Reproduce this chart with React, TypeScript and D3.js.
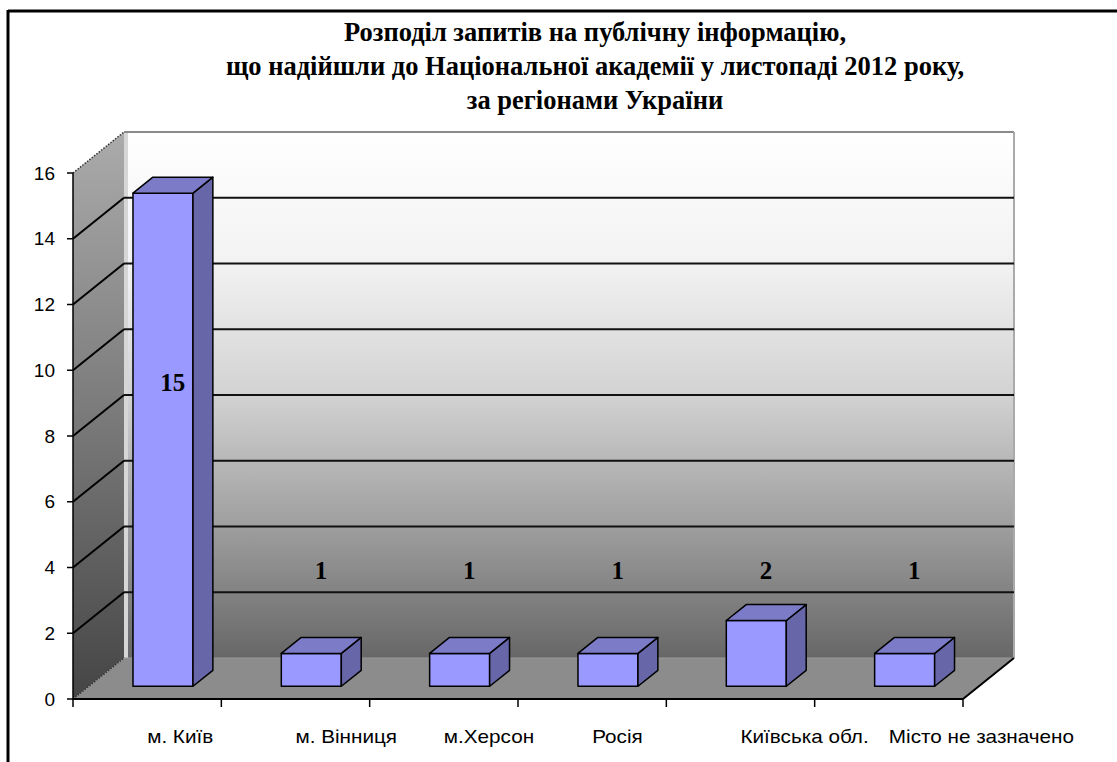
import React from "react";
import * as d3 from "d3";

const categories = ["м. Київ", "м. Вінниця", "м.Херсон", "Росія", "Київська обл.", "Місто не зазначено"];
const values = [15, 1, 1, 1, 2, 1];
const yTicks = [0, 2, 4, 6, 8, 10, 12, 14, 16];
const titleLines = [
  "Розподіл запитів на публічну інформацію,",
  "що надійшли до Національної академії у листопаді 2012 року,",
  "за регіонами України",
];

const W = 1117;
const H = 762;
const X0 = 73;
const X1 = 963;
const YB = 699;
const YT = 173;
const DX = 51;
const DY = 41;
const F1 = 0.31;
const F2 = 0.70;
const BAR_W = 60;

export default function App() {
  const x = d3.scaleBand<string>().domain(categories).range([X0, X1]).padding(0);
  const y = d3.scaleLinear().domain([0, 16]).range([YB, YT]);
  const bw = x.bandwidth();

  const pts = (arr: [number, number][]) => arr.map((p) => p.join(",")).join(" ");

  return (
    <div style={{ position: "fixed", left: 0, top: 0, width: W, height: H, background: "#fff" }}>
      <svg width={W} height={H} style={{ display: "block" }}>
        <defs>
          <linearGradient id="backG" x1="0" y1="0" x2="0" y2="1">
            <stop offset="0" stopColor="#ffffff" />
            <stop offset="0.25" stopColor="#f2f2f2" />
            <stop offset="0.5" stopColor="#d2d2d2" />
            <stop offset="0.75" stopColor="#9e9e9e" />
            <stop offset="1" stopColor="#676767" />
          </linearGradient>
          <linearGradient id="sideG" x1="0" y1="0" x2="0" y2="1">
            <stop offset="0" stopColor="#ababab" />
            <stop offset="0.5" stopColor="#7a7a7a" />
            <stop offset="1" stopColor="#454545" />
          </linearGradient>
        </defs>

        {/* outer frame */}
        <line x1={8} y1={11} x2={W} y2={11} stroke="#000" strokeWidth={3} />
        <line x1={8} y1={10} x2={8} y2={H} stroke="#000" strokeWidth={3} />

        {/* title */}
        {titleLines.map((t, i) => (
          <text
            key={i}
            transform={`translate(595,${41 + i * 34}) scale(1,1.06)`}
            textAnchor="middle"
            fontFamily="'Liberation Serif', 'Times New Roman', serif"
            fontWeight="bold"
            fontSize={26.5}
            fill="#000"
          >
            {t}
          </text>
        ))}

        {/* back wall */}
        <rect x={X0 + DX} y={YT - DY} width={X1 - X0} height={YB - YT} fill="url(#backG)" />
        <line x1={X0 + DX + 2} y1={YT - DY} x2={X0 + DX + 2} y2={YB - DY} stroke="#d6d6d6" strokeWidth={4} />
        <line x1={X0 + DX} y1={YT - DY} x2={X1 + DX} y2={YT - DY} stroke="#8a8a8a" strokeWidth={2} />
        <line x1={X1 + DX} y1={YT - DY} x2={X1 + DX} y2={YB - DY} stroke="#aaaaaa" strokeWidth={2} />

        {/* side wall */}
        <polygon
          points={pts([[X0, YT], [X0 + DX, YT - DY], [X0 + DX, YB - DY], [X0, YB]])}
          fill="url(#sideG)"
        />

        {/* floor */}
        <polygon
          points={pts([[X0, YB], [X0 + DX, YB - DY], [X1 + DX, YB - DY], [X1, YB]])}
          fill="#8c8c8c"
        />
        <line x1={X0 + DX} y1={YB - DY} x2={X1 + DX} y2={YB - DY} stroke="#9a9a9a" strokeWidth={1} />

        {/* gridlines */}
        {yTicks.filter((v) => v > 0 && v < 16).map((v) => (
          <g key={v}>
            <line x1={X0} y1={y(v)} x2={X0 + DX} y2={y(v) - DY} stroke="#000" strokeWidth={2} />
            <line x1={X0 + DX} y1={y(v) - DY} x2={X1 + DX} y2={y(v) - DY} stroke="#111" strokeWidth={2} />
          </g>
        ))}
        {/* dotted edges */}
        <line x1={X0} y1={YT} x2={X0 + DX} y2={YT - DY} stroke="#333" strokeWidth={1.5} strokeDasharray="1.5,1.5" />
        <line x1={X0} y1={YB} x2={X0 + DX} y2={YB - DY} stroke="#333" strokeWidth={1.5} strokeDasharray="1.5,1.5" />
        <line x1={X1} y1={YB} x2={X1 + DX} y2={YB - DY} stroke="#000" strokeWidth={2} />

        {/* axes */}
        <line x1={X0} y1={YT} x2={X0} y2={YB} stroke="#000" strokeWidth={1.5} />
        <line x1={X0} y1={YB} x2={X1} y2={YB} stroke="#000" strokeWidth={2} />
        {yTicks.map((v) => (
          <g key={v}>
            <line x1={X0 - 6} y1={y(v)} x2={X0} y2={y(v)} stroke="#000" strokeWidth={1.5} />
            <text
              x={55}
              y={y(v)}
              dy="0.35em"
              textAnchor="end"
              fontFamily="'Liberation Sans', Arial, sans-serif"
              fontSize={19}
              fill="#000"
            >
              {v}
            </text>
          </g>
        ))}
        {[...categories.map((c) => x(c) as number), X1].map((bx, i) => (
          <line key={i} x1={bx} y1={YB} x2={bx} y2={YB + 8} stroke="#000" strokeWidth={1.5} />
        ))}

        {/* bars */}
        {categories.map((c, i) => {
          const v = values[i];
          const fx = (x(c) as number) + (bw - BAR_W) / 2 + DX * F1;
          const fb = YB - DY * F1;
          const ft = y(v) - DY * F1;
          const ox = DX * (F2 - F1);
          const oy = DY * (F2 - F1);
          const top: [number, number][] = [[fx, ft], [fx + ox, ft - oy], [fx + BAR_W + ox, ft - oy], [fx + BAR_W, ft]];
          const side: [number, number][] = [[fx + BAR_W, ft], [fx + BAR_W + ox, ft - oy], [fx + BAR_W + ox, fb - oy], [fx + BAR_W, fb]];
          return (
            <g key={c} stroke="#000" strokeWidth={1.5} strokeLinejoin="round">
              <rect x={fx} y={ft} width={BAR_W} height={fb - ft} fill="#9999ff" />
              <polygon points={pts(side)} fill="#6666a8" />
              <polygon points={pts(top)} fill="#7b7bc8" />
            </g>
          );
        })}

        {/* data labels */}
        {categories.map((c, i) => {
          const v = values[i];
          const lv = v > 5 ? v * 0.6 : 3.3;
          const lx = (x(c) as number) + bw / 2 + DX * 0.5;
          const ly = y(lv) - DY * 0.5;
          return (
            <text
              key={c}
              x={lx}
              y={ly}
              dy="0.35em"
              textAnchor="middle"
              fontFamily="'Liberation Serif', 'Times New Roman', serif"
              fontWeight="bold"
              fontSize={25}
              fill="#000"
            >
              {v}
            </text>
          );
        })}

        {/* category labels */}
        {categories.map((c) => (
          <text
            key={c}
            transform={`translate(${(x(c) as number) + bw / 2},743) scale(1.15,1)`}
            fontFamily="'Liberation Sans', Arial, sans-serif"
            fontSize={18}
            fill="#000"
          >
            {c}
          </text>
        ))}
      </svg>
    </div>
  );
}
